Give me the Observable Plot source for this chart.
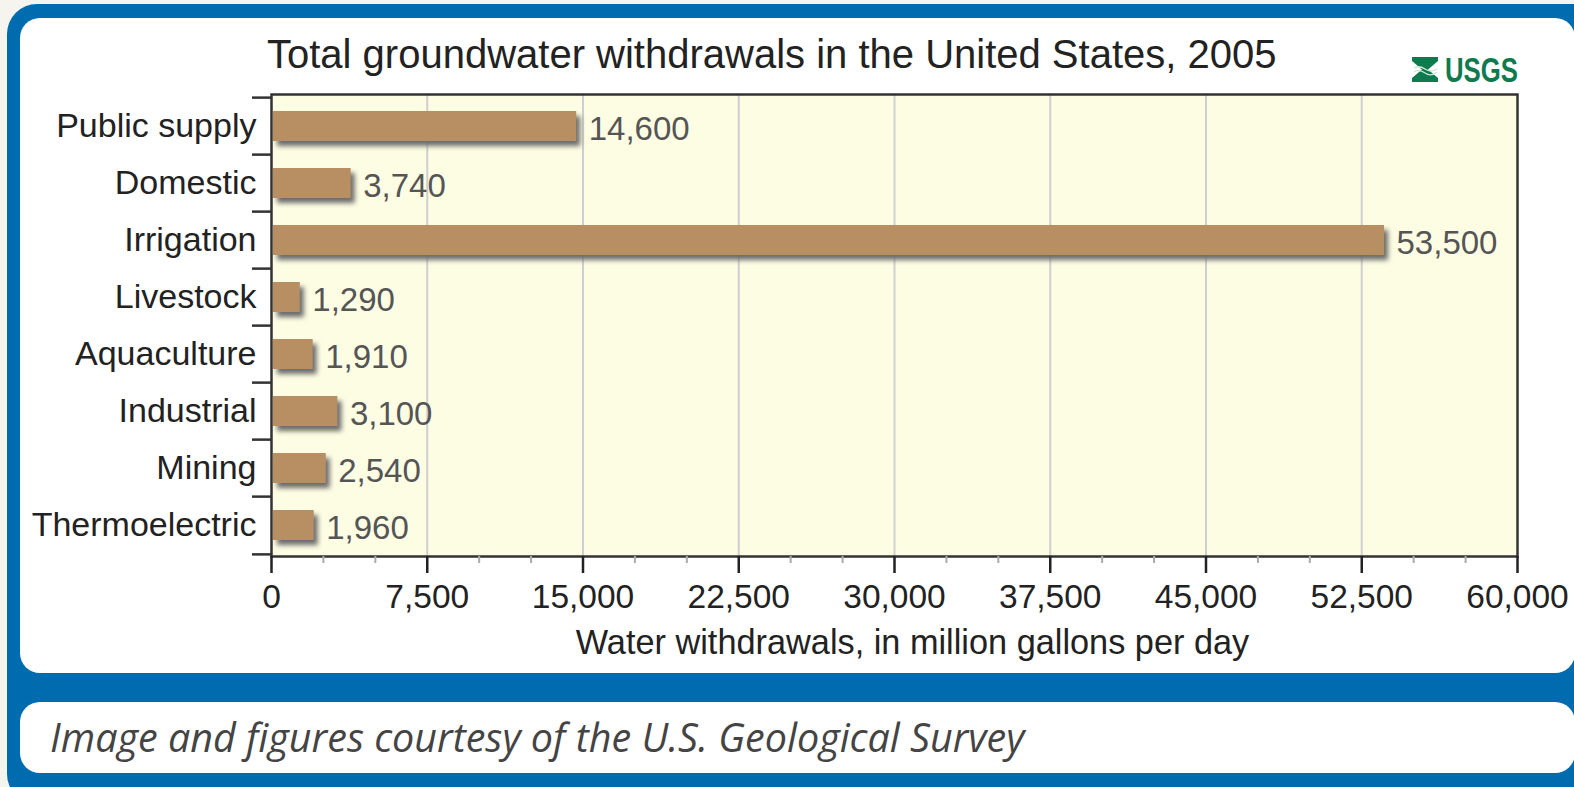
<!DOCTYPE html>
<html>
<head>
<meta charset="utf-8">
<script src="https://cdn.jsdelivr.net/npm/d3@7"></script>
<script src="https://cdn.jsdelivr.net/npm/@observablehq/plot@0.6"></script>
<style>
  html, body { margin: 0; padding: 0; }
  body { width: 1574px; height: 787px; overflow: hidden; background: #f6f4ee; position: relative; font-family: "Liberation Sans", Arial, sans-serif; }
  .frame { position: absolute; left: 7px; top: 4px; width: 1620px; height: 800px; background: #006cb0; border-radius: 30px; }
  .panel { position: absolute; left: 20px; top: 18px; width: 1555px; height: 655px; background: #fff; border-radius: 20px; }
  .cappanel { position: absolute; left: 20px; top: 702px; width: 1555px; height: 71px; background: #fff; border-radius: 20px; }
  .caption { position: absolute; left: 50px; top: 711px; font-family: "Open Sans", sans-serif; font-style: italic; font-size: 39.5px; line-height: 52px; color: #444; white-space: nowrap; }
  .title { position: absolute; left: 267px; top: 32px; font-size: 40px; line-height: 44px; color: #222; white-space: nowrap; }
  #chart { position: absolute; left: 0; top: 0; }
  .logo { position: absolute; left: 1405px; top: 50px; overflow: visible; }
</style>
</head>
<body>
<div class="frame"></div>
<div class="panel"></div>
<div class="cappanel"></div>
<div class="caption" id="caption"></div>
<div id="chart"></div>
<div class="title" id="title"></div>
<svg class="logo" width="130" height="40" viewBox="0 0 130 40">
  <polygon points="7,7 33,7 33,11 23,19.5 33,28 33,32 7,32 7,28 17,19.5 7,11" fill="#0f7a4d"/>
  <path d="M9,18 Q14,15 20,19 T32,19" stroke="#cfe6d8" stroke-width="1.4" fill="none"/>
  <path d="M9,22 Q14,19 20,23 T32,22" stroke="#cfe6d8" stroke-width="1.2" fill="none"/>
  <text x="40" y="32" textLength="73" lengthAdjust="spacingAndGlyphs" font-family="Liberation Sans, Arial, sans-serif" font-weight="bold" font-size="35" fill="#0f7a4d">USGS</text>
</svg>
<script>
const titleText = "Total groundwater withdrawals in the United States, 2005";
const xLabel = "Water withdrawals, in million gallons per day";
const captionText = "Image and figures courtesy of the U.S. Geological Survey";
const categories = ["Public supply", "Domestic", "Irrigation", "Livestock", "Aquaculture", "Industrial", "Mining", "Thermoelectric"];
const values = [14600, 3740, 53500, 1290, 1910, 3100, 2540, 1960];
const xTicks = [0, 7500, 15000, 22500, 30000, 37500, 45000, 52500, 60000];
const xGrid = [7500, 15000, 22500, 30000, 37500, 45000, 52500];
const xMinor = [2500, 5000, 10000, 12500, 17500, 20000, 25000, 27500, 32500, 35000, 40000, 42500, 47500, 50000, 55000, 57500];

document.getElementById("title").textContent = titleText;
document.getElementById("caption").textContent = captionText;

const data = categories.map((c, i) => ({category: c, value: values[i]}));

const W = 1574, H = 680, mT = 94, mB = 124, mL = 271, mR = 57;
const step = (H - mT - mB) / categories.length;
const fmt = d3.format(",");
const shadowFill = "#6b6b6b";

const plot = Plot.plot({
  width: W,
  height: H,
  marginTop: mT,
  marginBottom: mB,
  marginLeft: mL,
  marginRight: mR,
  style: {background: "transparent", fontFamily: "'Liberation Sans', Arial, sans-serif", overflow: "visible"},
  x: {domain: [0, 60000], axis: null},
  y: {domain: categories, paddingInner: 0.48, paddingOuter: 0.24, axis: null},
  marks: [
    Plot.frame({fill: "#fdfde4"}),
    Plot.ruleX(xGrid, {stroke: "#cfcfcf", strokeWidth: 2}),
    Plot.barX(data, {x: "value", y: "category", fill: shadowFill, dx: 6, dy: 5}),
    Plot.barX(data, {x: "value", y: "category", fill: "#b78f62", dx: 2}),
    Plot.text(data, {x: "value", y: "category", text: d => fmt(d.value), dx: 14, dy: 3, textAnchor: "start", fontSize: 33, fill: "#555"}),
    Plot.frame({stroke: "#333", strokeWidth: 2.5}),
    Plot.axisY({tickSize: 0, tickPadding: 15, fontSize: 34, fill: "#222", label: null}),
    Plot.axisY({tickSize: 19, text: null, stroke: "#333", strokeWidth: 2.5, dy: -step / 2, label: null}),
    Plot.axisY([categories[categories.length - 1]], {tickSize: 19, text: null, stroke: "#333", strokeWidth: 2.5, dy: step / 2, label: null}),
    Plot.axisX(xMinor, {tickSize: 7, text: null, stroke: "#aaa", strokeWidth: 2, label: null}),
    Plot.axisX(xTicks, {tickSize: 17, tickPadding: 11, fontSize: 33.5, fill: "#222", stroke: "#222", strokeWidth: 2.5, tickFormat: fmt, label: null}),
    Plot.text([xLabel], {frameAnchor: "bottom", lineAnchor: "top", dy: 73, dx: 18, fontSize: 34.3, fill: "#222"})
  ]
});

d3.select(plot).selectAll(`g[fill="${shadowFill}"]`).style("filter", "blur(2.5px)");
document.getElementById("chart").appendChild(plot);
</script>
</body>
</html>
